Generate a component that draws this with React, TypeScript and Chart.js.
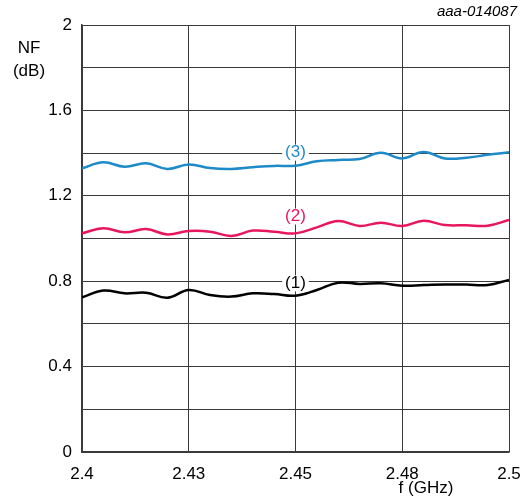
import React, { useEffect, useRef } from "react";
import { Chart, registerables } from "chart.js";

Chart.register(...registerables);

const freqs = [2.4, 2.405, 2.41, 2.415, 2.42, 2.425, 2.43, 2.435, 2.44, 2.445, 2.45, 2.455, 2.46, 2.465, 2.47, 2.475, 2.48, 2.485, 2.49, 2.495, 2.5];
const nf3 = [1.329, 1.357, 1.336, 1.352, 1.326, 1.347, 1.330, 1.326, 1.334, 1.340, 1.341, 1.362, 1.368, 1.372, 1.402, 1.375, 1.405, 1.375, 1.378, 1.392, 1.404];
const nf2 = [1.024, 1.048, 1.029, 1.044, 1.019, 1.035, 1.032, 1.012, 1.037, 1.032, 1.024, 1.052, 1.082, 1.059, 1.074, 1.059, 1.083, 1.063, 1.062, 1.060, 1.087];
const nf1 = [0.724, 0.756, 0.743, 0.746, 0.723, 0.759, 0.735, 0.728, 0.743, 0.740, 0.732, 0.759, 0.793, 0.787, 0.790, 0.779, 0.782, 0.785, 0.784, 0.782, 0.806];

const xTickValues = [2.4, 2.425, 2.45, 2.475, 2.5];
const xTickLabels = ["2.4", "2.43", "2.45", "2.48", "2.5"];
const yTickValues = [0, 0.2, 0.4, 0.6, 0.8, 1.0, 1.2, 1.4, 1.6, 1.8, 2.0];
const yTickLabels = ["0", "", "0.4", "", "0.8", "", "1.2", "", "1.6", "", "2"];

const seriesLabels = ["(1)", "(2)", "(3)"];
const labelAnchorsX = [2.45, 2.45, 2.45];
const labelAnchorsY = [0.79, 1.103, 1.402];

const COLORS = ["#000000", "#e8175d", "#1e8ac8"];
const FONT = "'Liberation Sans', Arial, sans-serif";

const annotations = {
  id: "annotations",
  afterDatasetsDraw(chart: any) {
    const { ctx, scales } = chart;
    ctx.save();
    ctx.font = `17px ${FONT}`;
    ctx.textAlign = "center";
    ctx.textBaseline = "middle";
    for (let i = 0; i < seriesLabels.length; i++) {
      const x = scales.x.getPixelForValue(labelAnchorsX[i]);
      const y = scales.y.getPixelForValue(labelAnchorsY[i]);
      const w = ctx.measureText(seriesLabels[i]).width + 6;
      ctx.fillStyle = "#ffffff";
      ctx.fillRect(x - w / 2, y - 8, w, 16);
      ctx.fillStyle = COLORS[i];
      ctx.fillText(seriesLabels[i], x, y);
    }
    ctx.fillStyle = "#000";
    ctx.fillText("NF", 29, 48);
    ctx.fillText("(dB)", 29, 71);
    ctx.fillText("f (GHz)", 426, 488);
    ctx.font = `italic 15px ${FONT}`;
    ctx.textAlign = "right";
    ctx.fillText("aaa-014087", 517, 12);
    ctx.restore();
  },
};

export default function App() {
  const ref = useRef<HTMLCanvasElement>(null);
  useEffect(() => {
    if (!ref.current) return;
    const mk = (vals: number[], c: string) => ({
      data: freqs.map((f, i) => ({ x: f, y: vals[i] })),
      borderColor: c,
      borderWidth: 2.5,
      pointRadius: 0,
      tension: 0.4,
      fill: false,
    });
    const chart = new Chart(ref.current, {
      type: "line",
      data: { datasets: [mk(nf1, COLORS[0]), mk(nf2, COLORS[1]), mk(nf3, COLORS[2])] },
      options: {
        animation: false,
        responsive: false,
        maintainAspectRatio: false,
        layout: { padding: { left: 0, right: 18, top: 25, bottom: 0 } },
        plugins: { legend: { display: false }, tooltip: { enabled: false } },
        scales: {
          x: {
            type: "linear",
            min: 2.4,
            max: 2.5,
            afterBuildTicks: (axis: any) => {
              axis.ticks = xTickValues.map((v) => ({ value: v }));
            },
            afterFit: (axis: any) => {
              axis.height = 50;
              axis.paddingLeft = 0;
              axis.paddingRight = 0;
            },
            grid: { color: "#3a3a3a", lineWidth: 1, drawTicks: false },
            border: { color: "#3a3a3a", width: 1.5 },
            ticks: {
              padding: 12,
              maxRotation: 0,
              autoSkip: false,
              color: "#000",
              font: { family: FONT, size: 17 },
              callback: (_v: any, i: number) => xTickLabels[i],
            },
          },
          y: {
            type: "linear",
            min: 0,
            max: 2,
            afterBuildTicks: (axis: any) => {
              axis.ticks = yTickValues.map((v) => ({ value: v }));
            },
            afterFit: (axis: any) => {
              axis.width = 82;
            },
            grid: { color: "#3a3a3a", lineWidth: 1, drawTicks: false },
            border: { color: "#3a3a3a", width: 1.5 },
            ticks: {
              padding: 10,
              autoSkip: false,
              color: "#000",
              font: { family: FONT, size: 17 },
              callback: (_v: any, i: number) => yTickLabels[i],
            },
          },
        },
      },
      plugins: [annotations],
    });
    return () => chart.destroy();
  }, []);
  return (
    <div style={{ position: "fixed", left: 0, top: 0, width: 527, height: 502, background: "#fff" }}>
      <canvas ref={ref} width={527} height={502} style={{ width: 527, height: 502 }} />
    </div>
  );
}
